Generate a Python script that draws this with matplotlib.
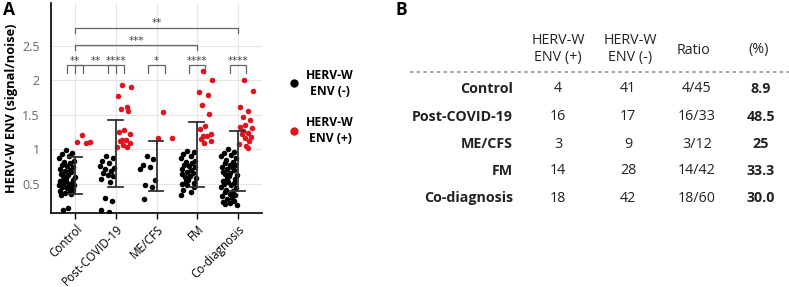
import numpy as np
import matplotlib.pyplot as plt
from matplotlib.lines import Line2D

plt.rcParams['font.family'] = ['Open Sans', 'DejaVu Sans']

# ---- data ----
groups = ['Control', 'Post-COVID-19', 'ME/CFS', 'FM', 'Co-diagnosis']

ctrl_neg = [0.99, 0.95, 0.93, 0.91, 0.88, 0.84, 0.82, 0.80, 0.78, 0.76,
            0.74, 0.72, 0.70, 0.69, 0.67, 0.65, 0.63, 0.62, 0.60, 0.59,
            0.58, 0.56, 0.55, 0.54, 0.52, 0.51, 0.50, 0.49, 0.48, 0.47,
            0.46, 0.45, 0.44, 0.42, 0.40, 0.38, 0.37, 0.36, 0.34, 0.15, 0.12]
ctrl_pos = [1.21, 1.11, 1.11, 1.10]
post_neg = [0.90, 0.88, 0.84, 0.81, 0.76, 0.73, 0.71, 0.69, 0.66, 0.63,
            0.61, 0.57, 0.53, 0.30, 0.25, 0.12, 0.10]
post_pos = [1.94, 1.90, 1.77, 1.61, 1.58, 1.55, 1.28, 1.25, 1.22, 1.14,
            1.13, 1.12, 1.10, 1.06, 1.04, 1.03]
me_neg = [0.90, 0.86, 0.78, 0.75, 0.72, 0.56, 0.48, 0.45, 0.28]
me_pos = [1.54, 1.17, 1.16]
fm_neg = [0.98, 0.96, 0.94, 0.90, 0.87, 0.84, 0.82, 0.80, 0.78, 0.76,
          0.74, 0.72, 0.70, 0.68, 0.66, 0.64, 0.62, 0.60, 0.58, 0.56,
          0.54, 0.52, 0.50, 0.48, 0.46, 0.42, 0.38, 0.34]
fm_pos = [2.14, 2.00, 1.83, 1.79, 1.65, 1.52, 1.34, 1.30, 1.22, 1.20,
          1.19, 1.15, 1.12, 1.10]
co_neg = [1.01, 0.97, 0.95, 0.92, 0.90, 0.88, 0.85, 0.82, 0.80, 0.78,
          0.77, 0.75, 0.74, 0.72, 0.70, 0.68, 0.66, 0.65, 0.63, 0.61,
          0.59, 0.57, 0.55, 0.53, 0.51, 0.50, 0.48, 0.46, 0.44, 0.42,
          0.40, 0.38, 0.36, 0.34, 0.32, 0.30, 0.28, 0.26, 0.24, 0.22, 0.21, 0.20]
co_pos = [2.01, 1.84, 1.61, 1.56, 1.47, 1.43, 1.36, 1.33, 1.31, 1.27,
          1.24, 1.22, 1.18, 1.16, 1.12, 1.08, 1.05, 1.02]

neg_vals = [ctrl_neg, post_neg, me_neg, fm_neg, co_neg]
pos_vals = [ctrl_pos, post_pos, me_pos, fm_pos, co_pos]

err_lo = [0.355, 0.45, 0.40, 0.45, 0.40]
err_hi = [0.89, 1.42, 1.12, 1.40, 1.26]

# significance
sig_within = ['**', '****', '*', '****', '****']
sig_between = [(0, 1, 2.22, '**'), (0, 3, 2.51, '***'), (0, 4, 2.76, '**')]

# table B
tab_rows = ['Control', 'Post-COVID-19', 'ME/CFS', 'FM', 'Co-diagnosis']
tab_pos = ['4', '16', '3', '14', '18']
tab_neg = ['41', '17', '9', '28', '42']
tab_ratio = ['4/45', '16/33', '3/12', '14/42', '18/60']
tab_pct = ['8.9', '48.5', '25', '33.3', '30.0']

RED = '#e0141e'
W, H = 789, 287


def px(x, y):
    return x / W, 1 - y / H


fig = plt.figure(figsize=(W / 100, H / 100), dpi=100)
ax = fig.add_axes([51 / W, 1 - 213 / H, 211 / W, 210 / H])

jit = [0.55, 0.15, 0.8, 0.35, 0.95, 0.05, 0.65, 0.25, 0.75, 0.45,
       0.1, 0.9, 0.3, 0.6, 0.2, 0.85, 0.4, 0.7, 0.0, 0.5, 0.62, 0.12, 0.88]

for i in range(len(groups)):
    nv = neg_vals[i]
    pv = pos_vals[i]
    xn = [i - 0.02 - 0.40 * jit[k % len(jit)] for k in range(len(nv))]
    xp = [i + 0.03 + 0.36 * jit[(k + 3) % len(jit)] for k in range(len(pv))]
    ax.scatter(xn, nv, s=16, color='black', linewidths=0, zorder=3)
    ax.scatter(xp, pv, s=16, color=RED, linewidths=0, zorder=3)
    # error bar
    ax.plot([i, i], [err_lo[i], err_hi[i]], color='#333333', lw=1.3, zorder=4)
    for yv in (err_lo[i], err_hi[i]):
        ax.plot([i - 0.19, i + 0.17], [yv, yv], color='#333333', lw=1.3, zorder=4)

# brackets
BC = '#666666'


def bracket(x1, x2, y, label, drop):
    ax.plot([x1, x1, x2, x2], [y - drop, y, y, y - drop], color=BC, lw=0.9,
            clip_on=False, zorder=2)
    ax.text((x1 + x2) / 2, y + 0.065, label, ha='center', va='center',
            fontsize=7.5, color='#444444', family='DejaVu Sans')


for i, lab in enumerate(sig_within):
    bracket(i - 0.2, i + 0.2, 2.22, lab, 0.11)
for x1, x2, y, lab in sig_between:
    bracket(x1, x2, y, lab, 0.11 if y < 2.3 else 0.07)

ax.set_xlim(-0.6, 4.6)
ax.set_ylim(0.08, 3.12)
ax.set_yticks([0.5, 1, 1.5, 2, 2.5])
ax.set_yticklabels(['0.5', '1', '1.5', '2', '2.5'])
ax.set_xticks(range(len(groups)))
ax.set_xticklabels(groups, rotation=45, ha='right', rotation_mode='anchor',
                   fontsize=8.4)
ax.tick_params(axis='y', length=0, labelsize=9, labelcolor='#666666', pad=8)
ax.tick_params(axis='x', length=4, width=1, pad=3)
ax.grid(True, color='#e6e6e6', lw=0.8, zorder=0)
ax.set_axisbelow(True)
for s in ('top', 'right'):
    ax.spines[s].set_visible(False)
for s in ('left', 'bottom'):
    ax.spines[s].set_linewidth(1.2)
ax.set_ylabel('HERV-W ENV (signal/noise)', fontsize=9.3, fontweight='bold',
              labelpad=3)

# legend
fig.add_artist(Line2D([294 / W], [1 - 83 / H], marker='o', ms=5, color='black', lw=0))
fig.add_artist(Line2D([294 / W], [1 - 131 / H], marker='o', ms=5, color=RED, lw=0))
fig.text(*px(330, 83), 'HERV-W\nENV (-)', ha='center', va='center',
         fontsize=8.7, fontweight='bold', linespacing=1.3)
fig.text(*px(330, 131), 'HERV-W\nENV (+)', ha='center', va='center',
         fontsize=8.7, fontweight='bold', linespacing=1.3)

# panel letters
fig.text(*px(3, 10), 'A', fontsize=12.5, fontweight='bold', va='center')
fig.text(*px(396, 10), 'B', fontsize=12.5, fontweight='bold', va='center')

# table B
TC = '#222222'
FS = 10.3
fig.text(*px(558, 49), 'HERV-W\nENV (+)', ha='center', va='center',
         fontsize=FS, color=TC, linespacing=1.2)
fig.text(*px(630, 49), 'HERV-W\nENV (-)', ha='center', va='center',
         fontsize=FS, color=TC, linespacing=1.2)
fig.text(*px(693, 50), 'Ratio', ha='center', va='center', fontsize=FS, color=TC)
fig.text(*px(759, 50), '(%)', ha='center', va='center', fontsize=FS, color=TC)
fig.add_artist(Line2D([410 / W, 1.0], [1 - 72 / H, 1 - 72 / H], color='#888888',
                      lw=1.1, ls=(0, (2.2, 2.2))))
row_y = [89, 117, 144, 171, 198]
for k in range(len(tab_rows)):
    y = row_y[k]
    fig.text(*px(513, y), tab_rows[k], ha='right', va='center', fontsize=FS,
             fontweight='bold', color=TC)
    fig.text(*px(558, y), tab_pos[k], ha='center', va='center', fontsize=FS, color=TC)
    fig.text(*px(628, y), tab_neg[k], ha='center', va='center', fontsize=FS, color=TC)
    fig.text(*px(697, y), tab_ratio[k], ha='center', va='center', fontsize=FS, color=TC)
    fig.text(*px(761, y), tab_pct[k], ha='center', va='center', fontsize=FS,
             fontweight='bold', color=TC)

fig.savefig('out.png', dpi=100)
